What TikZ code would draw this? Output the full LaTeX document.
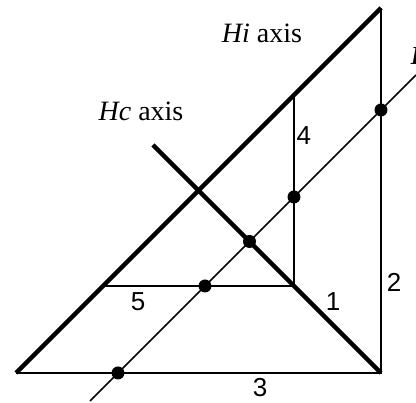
\documentclass[tikz,border=0pt]{standalone}
\usepackage{fontspec}
\setmainfont{Liberation Serif}
\newfontfamily\numfont{Liberation Sans}
\usetikzlibrary{positioning}

\begin{document}
\begin{tikzpicture}[x=1pt,y=1pt]
				\useasboundingbox (-16,-30) rectangle (400,373);
				% corners of the triangle
				\coordinate (O) at (0,0);
				\coordinate (B) at (365,0);
				\coordinate (T) at (365,365);
				\coordinate (E) at (137,228);
				\coordinate (P) at (278,87);
				\coordinate (V) at (278,278);
				\coordinate (W) at (87,87);
				\coordinate (L1) at (74,-28);
				\coordinate (L2) at (400,298);
				
				% Draw lines
				\draw[line width=1.6pt] (O) -- (B) -- (T);
				\draw[line width=1.6pt] (V) -- (P) -- (W);
				\draw[line width=1.5pt] (L1) -- (L2);
				\draw[line width=4.4pt] (O) -- (T);
				\draw[line width=4.4pt] (E) -- (B);
				
				% dots on the line
				\foreach \p in {(102,0),(189,87),(233.5,131.5),(278,176),(365,263)}
					\fill \p circle (6.5);
				
				% Labels
				\node[font=\fontsize{28}{30}\selectfont] at (246,340) {\textit{Hi} axis};
				\node[font=\fontsize{28}{30}\selectfont] at (125,262) {\textit{Hc} axis};
				\node[font=\fontsize{26}{30}\selectfont\itshape\bfseries] at (400,317) {I};
				\node[font=\numfont\fontsize{26}{30}\selectfont, right=-1pt of V, yshift=-41] {4};
				\node[font=\numfont\fontsize{26}{30}\selectfont] at (378,91) {2};
				\node[font=\numfont\fontsize{26}{30}\selectfont, below=3pt of W, xshift=35] {5};
				\node[font=\numfont\fontsize{26}{30}\selectfont] at (317,71) {1};
				\node[font=\numfont\fontsize{26}{30}\selectfont] at (244,-15) {3};
			\end{tikzpicture}
\end{document}
